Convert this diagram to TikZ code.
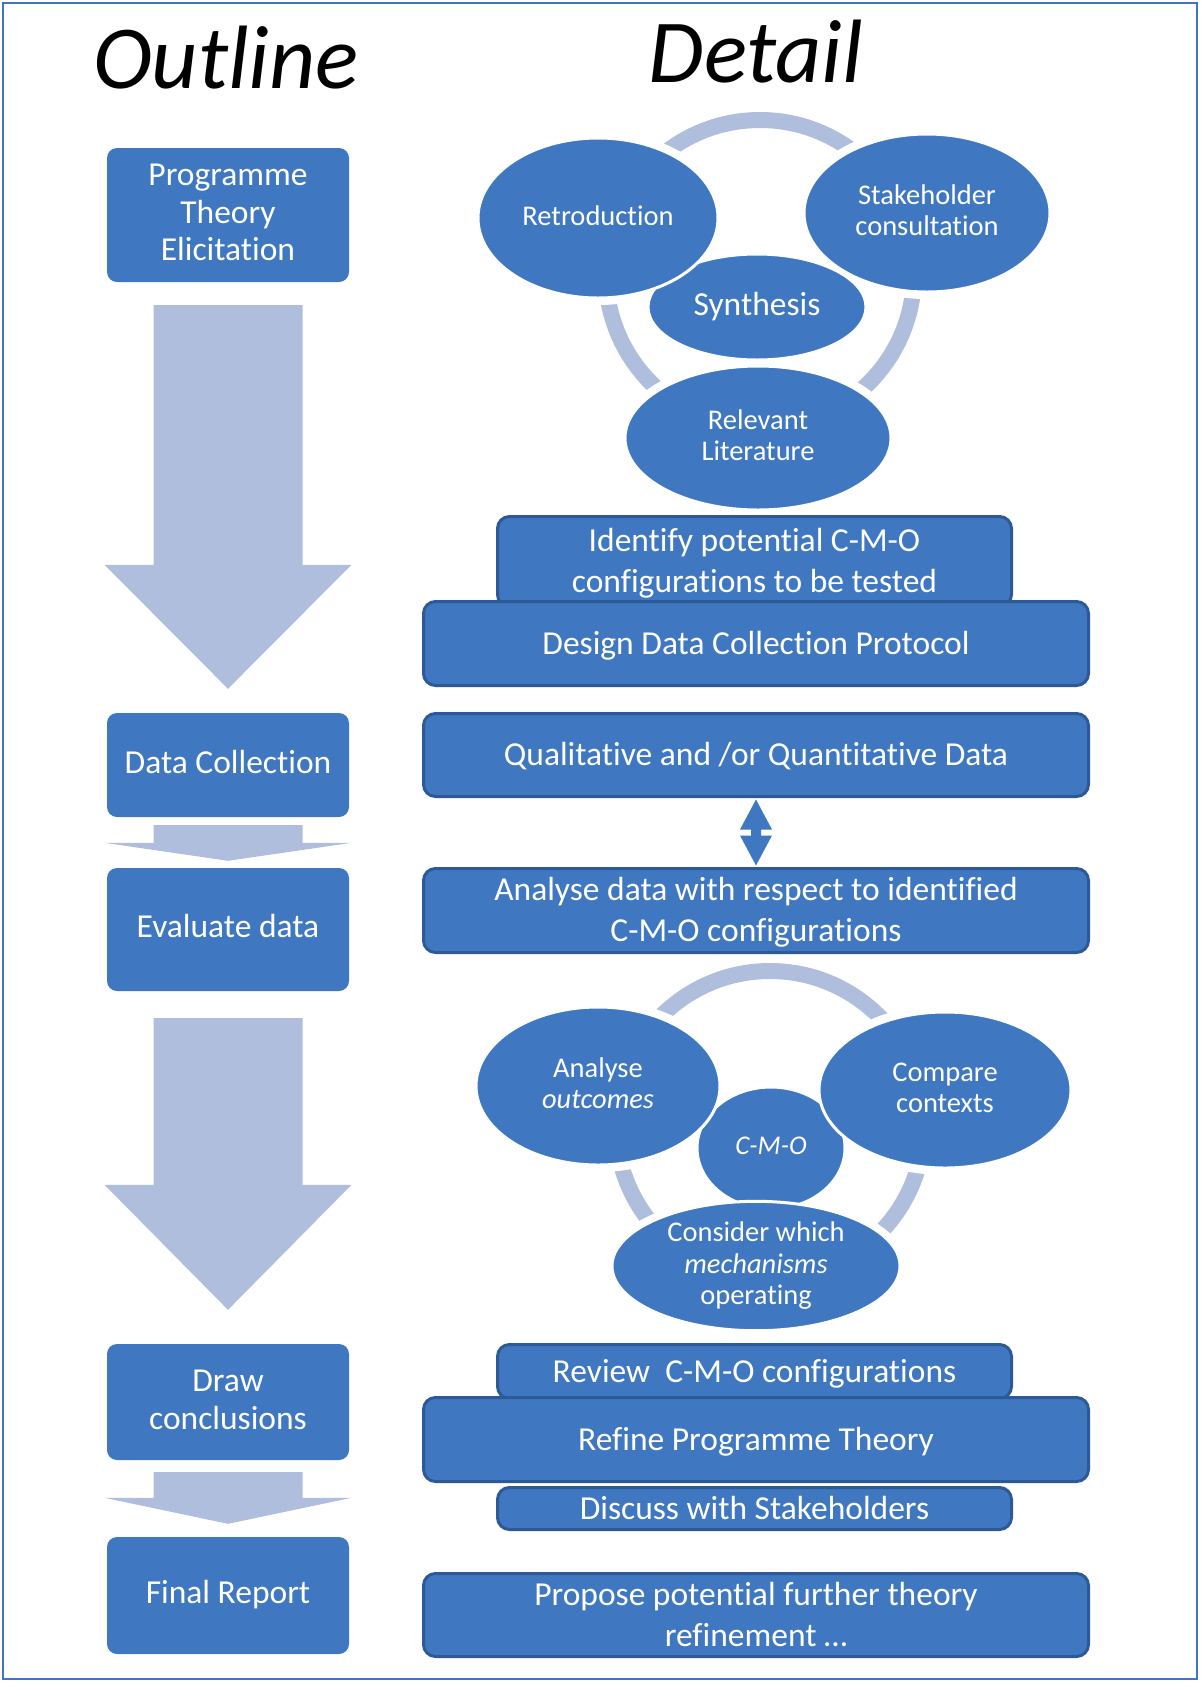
\documentclass[tikz,border=0pt]{standalone}
\usepackage{fontspec}
\setmainfont{Carlito}[Ligatures={NoCommon}]
\usetikzlibrary{shapes.geometric,calc}
\definecolor{mainblue}{HTML}{3F78C1}
\definecolor{pale}{HTML}{AFBEDD}
\definecolor{edgeblue}{HTML}{2D5A96}
\definecolor{frameblue}{HTML}{4472C4}
% struts giving every text line the same ascent and descent
\newcommand\tst{\rule[-0.25em]{0pt}{1em}}
\newcommand\rst{\rule[-0.15em]{0pt}{0.95em}}
% broad pale block arrow: #1 top centre of shaft, #2 tip, #3 head length
\newcommand\blockarrow[3]{%
  \fill[pale] ($(#1)+(-74.5,0)$) -- ($(#1)+(74.5,0)$) -- ($(#2)+(74.5,-#3)$)
    -- ($(#2)+(123.5,-#3)$) -- (#2) -- ($(#2)+(-123.5,-#3)$)
    -- ($(#2)+(-74.5,-#3)$) -- cycle;}
\begin{document}
\begin{tikzpicture}[x=1pt,y=-1pt,
  title/.style={anchor=base,inner sep=0,font=\fontsize{90}{90}\selectfont\itshape},
  lbox/.style={rectangle,rounded corners=10,fill=mainblue,text=white,minimum width=242,
    inner sep=0,align=center,font=\fontsize{33.5}{37.5}\selectfont},
  rbox/.style={rectangle,rounded corners=12,fill=mainblue,draw=edgeblue,line width=3,
    text=white,inner sep=0,align=center,font=\fontsize{33.5}{40.5}\selectfont},
  wide/.style={rbox,minimum width=665},
  narrow/.style={rbox,minimum width=514},
  bub/.style={ellipse,fill=mainblue,draw=white,line width=3,text=white,inner sep=0,
    align=center,font=\fontsize{28.5}{31.5}\selectfont},
  ring/.style={draw=pale,line width=16},
  halo/.style={fill=white}]
\useasboundingbox (0,0) rectangle (1200,1682);
\draw[frameblue,line width=2.5] (3,3) rectangle (1197,1679);

% headings
\node[title] (houtline) at (226,88) {Outline};
\node[title] (hdetail) at (756,82) {Detail};

% ---- outline column ----
\node[lbox,minimum height=134] (prog) at (228,215) {\tst Programme\\\tst Theory\\\tst Elicitation};
\node[lbox,minimum height=104] (dcol) at (228,765) {\tst Data Collection};
\node[lbox,minimum height=123] (eval) at (228,929.5) {\tst Evaluate data};
\node[lbox,minimum height=116] (concl) at (228,1402) {\tst Draw\\\tst conclusions};
\node[lbox,minimum height=117] (final) at (228,1595.5) {\tst Final Report};

\path (prog.south) ++(0,23) coordinate (a1s);
\path (dcol.north) ++(0,-24) coordinate (a1t);
\blockarrow{a1s}{a1t}{124}
\path (dcol.south) ++(0,8) coordinate (a2s);
\path (eval.north) ++(0,-7) coordinate (a2t);
\blockarrow{a2s}{a2t}{18}
\path (eval.south) ++(0,27) coordinate (a3s);
\path (concl.north) ++(0,-34) coordinate (a3t);
\blockarrow{a3s}{a3t}{125}
\path (concl.south) ++(0,12) coordinate (a4s);
\path (final.north) ++(0,-13) coordinate (a4t);
\blockarrow{a4s}{a4t}{26}

% ---- detail column: theory elicitation cycle ----
\coordinate (r1c) at (760,274);
\coordinate (c-retro) at (598,218);
\coordinate (c-stake) at (927,213);
\coordinate (c-relev) at (758,438);
\draw[ring] (r1c) circle[radius=154];
\fill[halo] (c-retro) ellipse[x radius=127,y radius=87];
\fill[halo] (c-stake) ellipse[x radius=130,y radius=86];
\fill[halo] (c-relev) ellipse[x radius=140,y radius=79];
\node[bub,minimum width=218,minimum height=106,font=\fontsize{33.5}{37}\selectfont]
  (synth) at (757,307) {\tst Synthesis};
\node[bub,minimum width=240,minimum height=160] (retro) at (c-retro) {\tst Retroduction};
\node[bub,minimum width=246,minimum height=158] (stake) at (c-stake) {\tst Stakeholder\\\tst consultation};
\node[bub,minimum width=266,minimum height=144] (relev) at (c-relev) {\tst Relevant\\\tst Literature};

\node[narrow,minimum height=90] (ident) at (754.5,561.5) {\rst Identify potential C-M-O\\\rst configurations to be tested};
\node[wide,minimum height=84] (design) at (756,643.5) {\rst Design Data Collection Protocol};
\node[wide,minimum height=83] (qual) at (756,755) {\rst Qualitative and /or Quantitative Data};
\node[wide,minimum height=84] (anal) at (756,910.5) {\rst Analyse data with respect to identified\\\rst C-M-O configurations};

% two-headed arrow between the data boxes
\coordinate (dm) at ($(qual.south)!0.5!(anal.north)$);
\fill[mainblue] ($(dm)+(0,-33)$) -- ++(16,30) -- ++(-11,0) -- ++(0,6) -- ++(11,0)
  -- ++(-16,30) -- ++(-16,-30) -- ++(11,0) -- ++(0,-6) -- ++(-11,0) -- cycle;

% ---- detail column: evaluation cycle ----
\coordinate (r2c) at (770,1125);
\coordinate (c-analy) at (598,1086);
\coordinate (c-comp) at (945,1090);
\coordinate (c-consid) at (756,1266);
\draw[ring] (r2c) circle[radius=154];
\fill[halo] (c-analy) ellipse[x radius=129,y radius=86];
\fill[halo] (c-comp) ellipse[x radius=133,y radius=85];
\fill[halo] (c-consid) ellipse[x radius=151,y radius=71];
\node[bub,minimum width=148,minimum height=122,font=\fontsize{27}{30}\selectfont]
  (cmo) at (771,1148) {\tst\textit{C-M-O}};
\node[bub,minimum width=244,minimum height=158] (analy) at (c-analy) {\tst Analyse\\\tst\textit{outcomes}};
\node[bub,minimum width=252,minimum height=156] (comp) at (c-comp) {\tst Compare\\\tst contexts};
\node[bub,minimum width=288,minimum height=128] (consid) at (c-consid) {\tst Consider which\\\tst\textit{mechanisms}\\\tst operating};

\node[narrow,minimum height=54] (review) at (754.5,1371.5) {\rst Review~~C-M-O configurations};
\node[narrow,minimum height=42] (discuss) at (754.5,1508.5) {\rst Discuss with Stakeholders};
\node[wide,minimum height=84] (refine) at (756,1439.5) {\rst Refine Programme Theory};
\node[wide,minimum height=83] (propose) at (756,1615) {\rst Propose potential further theory\\\rst refinement …};
\end{tikzpicture}
\end{document}
